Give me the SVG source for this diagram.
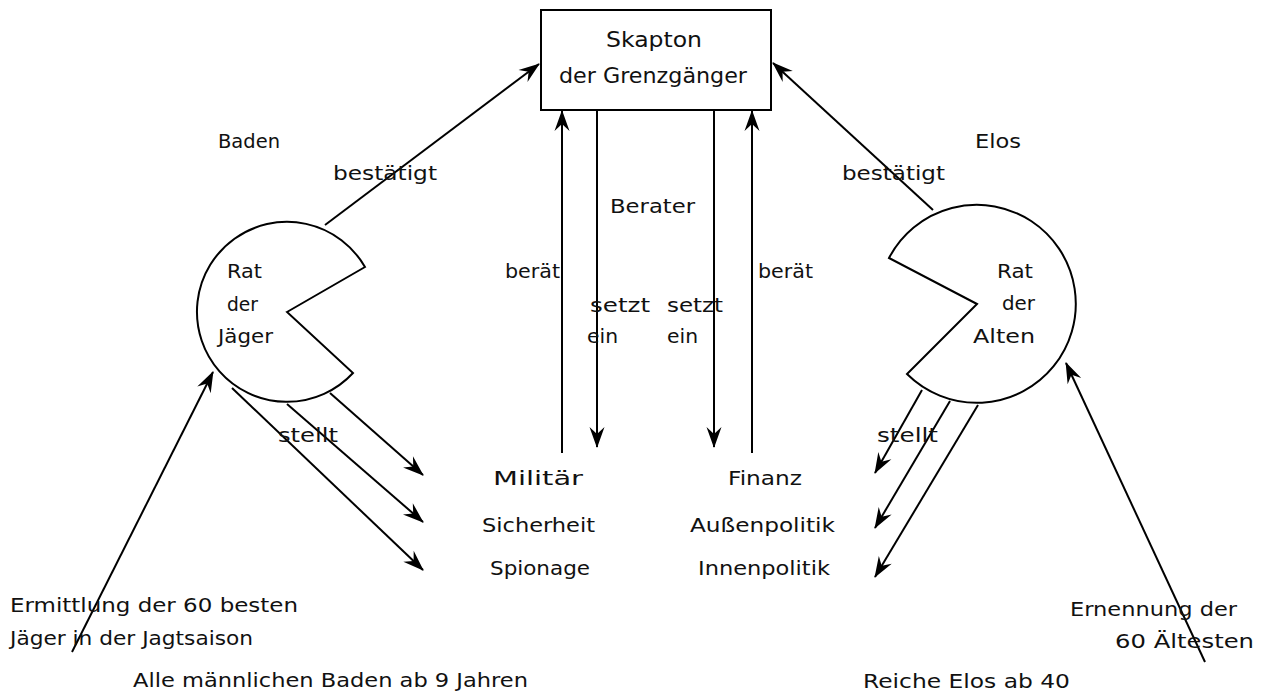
<svg xmlns="http://www.w3.org/2000/svg" width="1263" height="699" viewBox="0 0 1263 699">
<style>
text{font-family:"DejaVu Sans","Liberation Sans",sans-serif;font-size:20px;fill:#111}
.big{font-size:22px}
.ln{stroke:#000;stroke-width:2;fill:none}
.shape{stroke:#000;stroke-width:2;fill:#fff}
</style>
<defs>
<marker id="ah" viewBox="-22 -9 24 18" refX="0" refY="0" markerWidth="24" markerHeight="18" markerUnits="userSpaceOnUse" orient="auto">
<path d="M1,0 L-20,-7.5 L-13,0 L-20,7.5 Z" fill="#000"/>
</marker>
</defs>
<rect width="1263" height="699" fill="#fff"/>

<g id="connectors">
<line class="ln" x1="325" y1="225" x2="539" y2="64" marker-end="url(#ah)"/>
<line class="ln" x1="933" y1="210" x2="773" y2="63" marker-end="url(#ah)"/>
<line class="ln" x1="562" y1="453" x2="562" y2="111" marker-end="url(#ah)"/>
<line class="ln" x1="597" y1="111" x2="597" y2="447" marker-end="url(#ah)"/>
<line class="ln" x1="714" y1="111" x2="714" y2="447" marker-end="url(#ah)"/>
<line class="ln" x1="752" y1="453" x2="752" y2="111" marker-end="url(#ah)"/>
<line class="ln" x1="330" y1="393" x2="423" y2="475" marker-end="url(#ah)"/>
<line class="ln" x1="287" y1="404" x2="423" y2="522" marker-end="url(#ah)"/>
<line class="ln" x1="232" y1="388" x2="423" y2="570" marker-end="url(#ah)"/>
<line class="ln" x1="922" y1="390" x2="875" y2="473" marker-end="url(#ah)"/>
<line class="ln" x1="950" y1="401" x2="875" y2="528" marker-end="url(#ah)"/>
<line class="ln" x1="978" y1="405" x2="875" y2="577" marker-end="url(#ah)"/>
<line class="ln" x1="72" y1="652" x2="213" y2="372" marker-end="url(#ah)"/>
<line class="ln" x1="1205" y1="662" x2="1066" y2="363" marker-end="url(#ah)"/>
<text x="333" y="180" textLength="104" lengthAdjust="spacingAndGlyphs">bestätigt</text>
<text x="842" y="180" textLength="103" lengthAdjust="spacingAndGlyphs">bestätigt</text>
<text x="610" y="213" textLength="85" lengthAdjust="spacingAndGlyphs">Berater</text>
<text x="505" y="278" textLength="55" lengthAdjust="spacingAndGlyphs">berät</text>
<text x="758" y="278" textLength="55" lengthAdjust="spacingAndGlyphs">berät</text>
<text x="590" y="312" textLength="60" lengthAdjust="spacingAndGlyphs">setzt</text>
<text x="587" y="343" textLength="31" lengthAdjust="spacingAndGlyphs">ein</text>
<text x="667" y="312" textLength="56" lengthAdjust="spacingAndGlyphs">setzt</text>
<text x="667" y="343" textLength="31" lengthAdjust="spacingAndGlyphs">ein</text>
<text x="278" y="442" textLength="60" lengthAdjust="spacingAndGlyphs">stellt</text>
<text x="877" y="442" textLength="61" lengthAdjust="spacingAndGlyphs">stellt</text>
</g>

<g id="skapton">
<rect class="shape" x="541" y="10" width="230" height="100"/>
<text class="big" x="606" y="47" textLength="96" lengthAdjust="spacingAndGlyphs">Skapton</text>
<text class="big" x="559" y="83" textLength="188" lengthAdjust="spacingAndGlyphs">der Grenzgänger</text>
</g>

<g id="baden">
<text x="218" y="148" textLength="62" lengthAdjust="spacingAndGlyphs">Baden</text>
</g>
<g id="elos">
<text x="975" y="148" textLength="46" lengthAdjust="spacingAndGlyphs">Elos</text>
</g>

<g id="rat-der-jaeger">
<path class="shape" d="M287,312 L365,267 A90,90 0 1 0 353,373 Z"/>
<text x="227" y="278" textLength="35" lengthAdjust="spacingAndGlyphs">Rat</text>
<text x="227" y="311" textLength="31" lengthAdjust="spacingAndGlyphs">der</text>
<text x="218" y="343" textLength="55" lengthAdjust="spacingAndGlyphs">Jäger</text>
</g>

<g id="rat-der-alten">
<path class="shape" d="M977,304 L889,258 A99,99 0 1 1 907,374 Z"/>
<text x="997" y="278" textLength="36" lengthAdjust="spacingAndGlyphs">Rat</text>
<text x="1002" y="310" textLength="33" lengthAdjust="spacingAndGlyphs">der</text>
<text x="973" y="343" textLength="62" lengthAdjust="spacingAndGlyphs">Alten</text>
</g>

<g id="militaer"><text x="493" y="485" textLength="90" lengthAdjust="spacingAndGlyphs">Militär</text></g>
<g id="sicherheit"><text x="482" y="532" textLength="113" lengthAdjust="spacingAndGlyphs">Sicherheit</text></g>
<g id="spionage"><text x="490" y="575" textLength="100" lengthAdjust="spacingAndGlyphs">Spionage</text></g>
<g id="finanz"><text x="728" y="485" textLength="74" lengthAdjust="spacingAndGlyphs">Finanz</text></g>
<g id="aussenpolitik"><text x="690" y="532" textLength="145" lengthAdjust="spacingAndGlyphs">Außenpolitik</text></g>
<g id="innenpolitik"><text x="698" y="575" textLength="132" lengthAdjust="spacingAndGlyphs">Innenpolitik</text></g>

<g id="ermittlung">
<text x="10" y="612" textLength="288" lengthAdjust="spacingAndGlyphs">Ermittlung der 60 besten</text>
<text x="10" y="645" textLength="243" lengthAdjust="spacingAndGlyphs">Jäger in der Jagtsaison</text>
</g>
<g id="alle-maennlichen">
<text x="133" y="687" textLength="395" lengthAdjust="spacingAndGlyphs">Alle männlichen  Baden ab 9 Jahren</text>
</g>
<g id="ernennung">
<text x="1070" y="616" textLength="167" lengthAdjust="spacingAndGlyphs">Ernennung der</text>
<text x="1115" y="648" textLength="139" lengthAdjust="spacingAndGlyphs">60 Ältesten</text>
</g>
<g id="reiche-elos">
<text x="863" y="688" textLength="207" lengthAdjust="spacingAndGlyphs">Reiche Elos ab 40</text>
</g>
</svg>
